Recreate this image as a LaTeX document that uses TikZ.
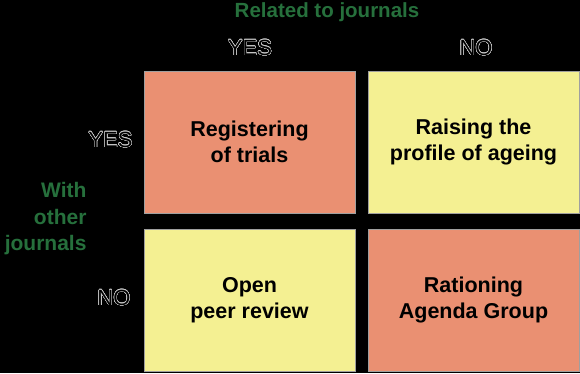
\documentclass[tikz,border=0pt]{standalone}
\usepackage{fontspec}
\setmainfont{Liberation Sans}
\usepackage{contour}
\contourlength{0.4pt}
\contournumber{32}
\definecolor{salmon}{RGB}{234,144,114}
\definecolor{paleyellow}{RGB}{244,240,146}
\definecolor{labelgreen}{RGB}{38,112,60}
\newcommand{\outlinetext}[1]{\contour{white!80!black}{\textcolor{black}{#1}}}
\begin{document}
\begin{tikzpicture}[x=1pt,y=-1pt,
  cell/.style={draw=gray!75,line width=0.8pt,minimum width=211pt,minimum height=142pt,anchor=north west,inner sep=0pt,outer sep=0pt,
     font=\fontsize{21.5}{25.5}\selectfont\bfseries,align=center,text=black},
  hilite/.style={cell,fill=salmon},
  plain/.style={cell,fill=paleyellow},
  axis/.style={font=\fontsize{21}{26.5}\selectfont\bfseries,text=labelgreen},
  yn/.style={font=\fontsize{22}{22}\selectfont}]
\fill[black] (0,0) rectangle (580,373);
\useasboundingbox (0,0) rectangle (580,373);
\node[hilite] (tl) at (144,71) {Registering\\of trials};
\node[plain] (tr) at (368,71) {Raising the\\profile of ageing};
\node[plain] (bl) at (144,229) {Open\\peer review};
\node[hilite] (br) at (368,229) {Rationing\\Agenda Group};
\node[axis,font=\fontsize{20.5}{26}\selectfont\bfseries] (rel) at (327,12) {Related to journals};
\node[yn] (yes1) at (250,48) {\outlinetext{YES}};
\node[yn] (no1) at (476,48) {\outlinetext{NO}};
\node[yn,anchor=east] (yes2) at (136,140) {\outlinetext{YES}};
\node[yn,anchor=east] (no2) at (134,298) {\outlinetext{NO}};
\node[axis,align=right,anchor=east] (with) at (90,219) {With\\other\\journals};
\end{tikzpicture}
\end{document}
